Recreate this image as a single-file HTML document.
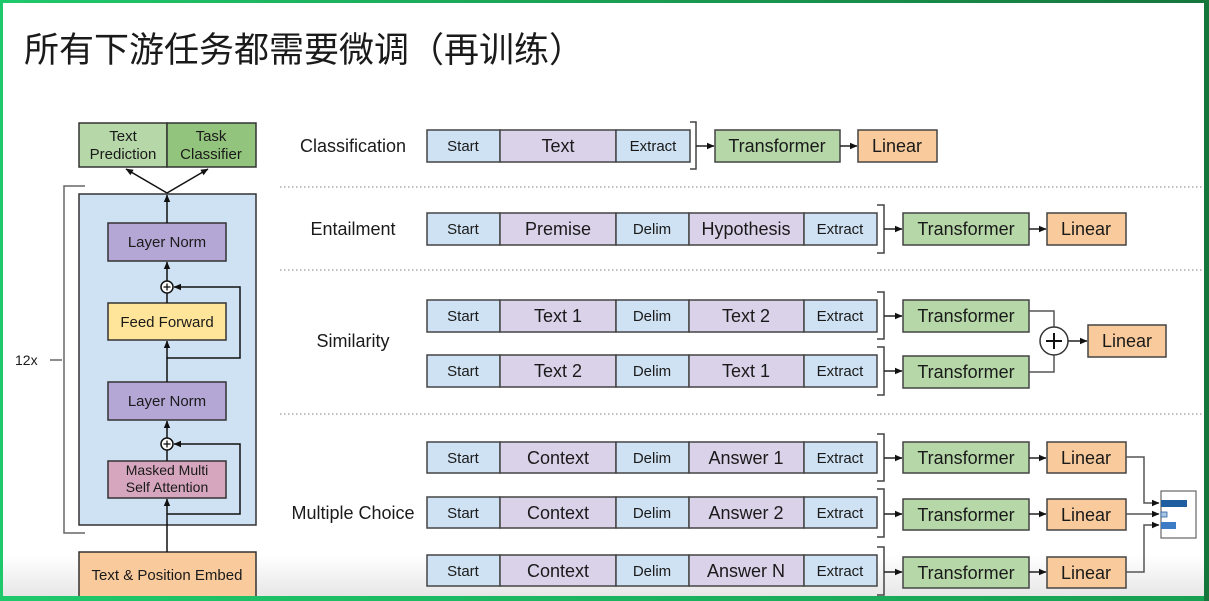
<!DOCTYPE html>
<html><head><meta charset="utf-8"><style>
html,body{margin:0;padding:0;background:#fff;}
svg{display:block;}
text{font-family:"Liberation Sans","Noto Sans CJK SC",sans-serif;fill:#1a1a1a;}
</style></head><body>
<svg width="1209" height="601" viewBox="0 0 1209 601" xmlns="http://www.w3.org/2000/svg">
<defs>
<linearGradient id="bg" x1="0" y1="0" x2="0" y2="1">
<stop offset="0" stop-color="#ffffff"/><stop offset="1" stop-color="#e4e4e4"/>
</linearGradient>
<linearGradient id="gt" x1="0" y1="0" x2="1" y2="0">
<stop offset="0" stop-color="#1fc96b"/><stop offset="1" stop-color="#15763c"/>
</linearGradient>
<linearGradient id="gb" x1="0" y1="0" x2="1" y2="0">
<stop offset="0" stop-color="#1fc96b"/><stop offset="1" stop-color="#17a052"/>
</linearGradient>
<marker id="ah" markerWidth="8" markerHeight="8" refX="7" refY="4" orient="auto" markerUnits="userSpaceOnUse">
<path d="M0,0.8 L7.5,4 L0,7.2 Z" fill="#111"/>
</marker>
</defs>
<rect width="1209" height="601" fill="#fff"/>
<rect x="0" y="555" width="1209" height="46" fill="url(#bg)"/>

<!-- title -->
<text x="24" y="62" font-size="35" style="font-family:'Noto Sans CJK SC','WenQuanYi Zen Hei',sans-serif" fill="#111">所有下游任务都需要微调（再训练）</text>

<!-- LEFT COLUMN -->
<g stroke="#333" stroke-width="1.5">
<rect x="79" y="123" width="88" height="44" fill="#b6d7a8"/>
<rect x="167" y="123" width="89" height="44" fill="#93c47d"/>
<rect x="79" y="194" width="177" height="331" fill="#cfe2f3"/>
<rect x="108" y="223" width="118" height="38" fill="#b4a7d6"/>
<rect x="108" y="303" width="118" height="37" fill="#ffe599"/>
<rect x="108" y="382" width="118" height="38" fill="#b4a7d6"/>
<rect x="108" y="461" width="118" height="37" fill="#d5a6bd"/>
<rect x="79" y="552" width="177" height="45" fill="#f9cb9c"/>
</g>
<text x="123" y="141" font-size="15" text-anchor="middle">Text</text>
<text x="123" y="159" font-size="15" text-anchor="middle">Prediction</text>
<text x="211" y="141" font-size="15" text-anchor="middle">Task</text>
<text x="211" y="159" font-size="15" text-anchor="middle">Classifier</text>
<text x="167" y="247" font-size="15" text-anchor="middle">Layer Norm</text>
<text x="167" y="327" font-size="15" text-anchor="middle">Feed Forward</text>
<text x="167" y="406" font-size="15" text-anchor="middle">Layer Norm</text>
<text x="167" y="475" font-size="14" text-anchor="middle">Masked Multi</text>
<text x="167" y="492" font-size="14" text-anchor="middle">Self Attention</text>
<text x="167" y="580" font-size="15" text-anchor="middle">Text &amp; Position Embed</text>

<g stroke="#111" stroke-width="1.5" fill="none">
<line x1="167" y1="193" x2="126" y2="169" marker-end="url(#ah)"/>
<line x1="167" y1="193" x2="208" y2="169" marker-end="url(#ah)"/>
<line x1="167" y1="223" x2="167" y2="195" marker-end="url(#ah)"/>
<line x1="167" y1="281" x2="167" y2="262" marker-end="url(#ah)"/>
<line x1="167" y1="303" x2="167" y2="293"/>
<path d="M167,382 V358 H240 V287 H174" marker-end="url(#ah)"/>
<line x1="167" y1="358" x2="167" y2="341" marker-end="url(#ah)"/>
<line x1="167" y1="438" x2="167" y2="421" marker-end="url(#ah)"/>
<line x1="167" y1="461" x2="167" y2="450"/>
<path d="M167,552 V499" marker-end="url(#ah)"/>
<path d="M167,514 H240 V444 H174" marker-end="url(#ah)"/>
</g>
<g stroke="#111" stroke-width="1.5" fill="#fff">
<circle cx="167" cy="287" r="6"/>
<circle cx="167" cy="444" r="6"/>
</g>
<g stroke="#111" stroke-width="1.3">
<line x1="163.5" y1="287" x2="170.5" y2="287"/><line x1="167" y1="283.5" x2="167" y2="290.5"/>
<line x1="163.5" y1="444" x2="170.5" y2="444"/><line x1="167" y1="440.5" x2="167" y2="447.5"/>
</g>
<!-- 12x bracket -->
<path d="M85,186 H64 V533 H85" stroke="#666" stroke-width="1.5" fill="none"/>
<line x1="50" y1="360" x2="62" y2="360" stroke="#666" stroke-width="1.5"/>
<text x="15" y="365" font-size="14">12x</text>

<!-- dotted separators -->
<g stroke="#aaa" stroke-width="1.5" stroke-dasharray="1.5,2.5">
<line x1="280" y1="187" x2="1204" y2="187"/>
<line x1="280" y1="270" x2="1204" y2="270"/>
<line x1="280" y1="414" x2="1204" y2="414"/>
</g>

<!-- task labels -->
<text x="353" y="152" font-size="18" text-anchor="middle">Classification</text>
<text x="353" y="235" font-size="18" text-anchor="middle">Entailment</text>
<text x="353" y="347" font-size="18" text-anchor="middle">Similarity</text>
<text x="353" y="519" font-size="18" text-anchor="middle">Multiple Choice</text>

<!-- segment boxes -->
<g stroke="#444" stroke-width="1.5">
<rect x="427" y="130" width="73" height="32" fill="#cfe2f3"/>
<rect x="500" y="130" width="116" height="32" fill="#d9d2e9"/>
<rect x="616" y="130" width="74" height="32" fill="#cfe2f3"/>

<rect x="427" y="213" width="73" height="32" fill="#cfe2f3"/>
<rect x="500" y="213" width="116" height="32" fill="#d9d2e9"/>
<rect x="616" y="213" width="73" height="32" fill="#cfe2f3"/>
<rect x="689" y="213" width="115" height="32" fill="#d9d2e9"/>
<rect x="804" y="213" width="73" height="32" fill="#cfe2f3"/>

<rect x="427" y="300" width="73" height="32" fill="#cfe2f3"/>
<rect x="500" y="300" width="116" height="32" fill="#d9d2e9"/>
<rect x="616" y="300" width="73" height="32" fill="#cfe2f3"/>
<rect x="689" y="300" width="115" height="32" fill="#d9d2e9"/>
<rect x="804" y="300" width="73" height="32" fill="#cfe2f3"/>

<rect x="427" y="355" width="73" height="32" fill="#cfe2f3"/>
<rect x="500" y="355" width="116" height="32" fill="#d9d2e9"/>
<rect x="616" y="355" width="73" height="32" fill="#cfe2f3"/>
<rect x="689" y="355" width="115" height="32" fill="#d9d2e9"/>
<rect x="804" y="355" width="73" height="32" fill="#cfe2f3"/>

<rect x="427" y="442" width="73" height="31" fill="#cfe2f3"/>
<rect x="500" y="442" width="116" height="31" fill="#d9d2e9"/>
<rect x="616" y="442" width="73" height="31" fill="#cfe2f3"/>
<rect x="689" y="442" width="115" height="31" fill="#d9d2e9"/>
<rect x="804" y="442" width="73" height="31" fill="#cfe2f3"/>

<rect x="427" y="497" width="73" height="31" fill="#cfe2f3"/>
<rect x="500" y="497" width="116" height="31" fill="#d9d2e9"/>
<rect x="616" y="497" width="73" height="31" fill="#cfe2f3"/>
<rect x="689" y="497" width="115" height="31" fill="#d9d2e9"/>
<rect x="804" y="497" width="73" height="31" fill="#cfe2f3"/>

<rect x="427" y="555" width="73" height="31" fill="#cfe2f3"/>
<rect x="500" y="555" width="116" height="31" fill="#d9d2e9"/>
<rect x="616" y="555" width="73" height="31" fill="#cfe2f3"/>
<rect x="689" y="555" width="115" height="31" fill="#d9d2e9"/>
<rect x="804" y="555" width="73" height="31" fill="#cfe2f3"/>

<rect x="715" y="130" width="125" height="32" fill="#b6d7a8"/>
<rect x="858" y="130" width="79" height="32" fill="#f9cb9c"/>
<rect x="903" y="213" width="126" height="32" fill="#b6d7a8"/>
<rect x="1047" y="213" width="79" height="32" fill="#f9cb9c"/>
<rect x="903" y="300" width="126" height="32" fill="#b6d7a8"/>
<rect x="903" y="356" width="126" height="32" fill="#b6d7a8"/>
<rect x="1088" y="325" width="78" height="32" fill="#f9cb9c"/>
<rect x="903" y="442" width="126" height="31" fill="#b6d7a8"/>
<rect x="1047" y="442" width="79" height="31" fill="#f9cb9c"/>
<rect x="903" y="499" width="126" height="31" fill="#b6d7a8"/>
<rect x="1047" y="499" width="79" height="31" fill="#f9cb9c"/>
<rect x="903" y="557" width="126" height="31" fill="#b6d7a8"/>
<rect x="1047" y="557" width="79" height="31" fill="#f9cb9c"/>
</g>

<g font-size="15" text-anchor="middle">
<text x="463" y="151">Start</text><text x="653" y="151">Extract</text>
<text x="463" y="234">Start</text><text x="652" y="234">Delim</text><text x="840" y="234">Extract</text>
<text x="463" y="321">Start</text><text x="652" y="321">Delim</text><text x="840" y="321">Extract</text>
<text x="463" y="376">Start</text><text x="652" y="376">Delim</text><text x="840" y="376">Extract</text>
<text x="463" y="463">Start</text><text x="652" y="463">Delim</text><text x="840" y="463">Extract</text>
<text x="463" y="518">Start</text><text x="652" y="518">Delim</text><text x="840" y="518">Extract</text>
<text x="463" y="576">Start</text><text x="652" y="576">Delim</text><text x="840" y="576">Extract</text>
</g>
<g font-size="18" text-anchor="middle">
<text x="558" y="152">Text</text>
<text x="558" y="235">Premise</text><text x="746" y="235">Hypothesis</text>
<text x="558" y="322">Text 1</text><text x="746" y="322">Text 2</text>
<text x="558" y="377">Text 2</text><text x="746" y="377">Text 1</text>
<text x="558" y="464">Context</text><text x="746" y="464">Answer 1</text>
<text x="558" y="519">Context</text><text x="746" y="519">Answer 2</text>
<text x="558" y="577">Context</text><text x="746" y="577">Answer N</text>
<text x="777" y="152">Transformer</text><text x="897" y="152">Linear</text>
<text x="966" y="235">Transformer</text><text x="1086" y="235">Linear</text>
<text x="966" y="322">Transformer</text>
<text x="966" y="378">Transformer</text>
<text x="1127" y="347">Linear</text>
<text x="966" y="464">Transformer</text><text x="1086" y="464">Linear</text>
<text x="966" y="521">Transformer</text><text x="1086" y="521">Linear</text>
<text x="966" y="579">Transformer</text><text x="1086" y="579">Linear</text>
</g>

<g stroke="#444" stroke-width="1.5" fill="none">
<path d="M690,122 H696 V169 H690"/>
<path d="M877,205 H884 V253 H877"/>
<path d="M877,292 H884 V339 H877"/>
<path d="M877,347 H884 V395 H877"/>
<path d="M877,434 H884 V481 H877"/>
<path d="M877,489 H884 V537 H877"/>
<path d="M877,547 H884 V595 H877"/>
</g>

<g stroke="#222" stroke-width="1.5" fill="none">
<line x1="696" y1="146" x2="714" y2="146" marker-end="url(#ah)"/>
<line x1="840" y1="146" x2="857" y2="146" marker-end="url(#ah)"/>
<line x1="884" y1="229" x2="902" y2="229" marker-end="url(#ah)"/>
<line x1="1029" y1="229" x2="1046" y2="229" marker-end="url(#ah)"/>
<line x1="884" y1="316" x2="902" y2="316" marker-end="url(#ah)"/>
<line x1="884" y1="371" x2="902" y2="371" marker-end="url(#ah)"/>
<line x1="884" y1="458" x2="902" y2="458" marker-end="url(#ah)"/>
<line x1="1029" y1="458" x2="1046" y2="458" marker-end="url(#ah)"/>
<line x1="884" y1="514" x2="902" y2="514" marker-end="url(#ah)"/>
<line x1="1029" y1="514" x2="1046" y2="514" marker-end="url(#ah)"/>
<line x1="884" y1="572" x2="902" y2="572" marker-end="url(#ah)"/>
<line x1="1029" y1="572" x2="1046" y2="572" marker-end="url(#ah)"/>
</g>
<g stroke="#555" stroke-width="1.5" fill="none">
<path d="M1029,311 H1054 V327"/>
<path d="M1029,372 H1054 V355"/>
<path d="M1126,457 H1144 V503 H1159" marker-end="url(#ah)"/>
<path d="M1126,514 H1159" marker-end="url(#ah)"/>
<path d="M1126,572 H1144 V525 H1159" marker-end="url(#ah)"/>
</g>
<line x1="1068" y1="341" x2="1087" y2="341" stroke="#222" stroke-width="1.5" marker-end="url(#ah)"/>
<circle cx="1054" cy="341" r="14" fill="#fff" stroke="#333" stroke-width="1.5"/>
<g stroke="#111" stroke-width="2">
<line x1="1046" y1="341" x2="1062" y2="341"/><line x1="1054" y1="333" x2="1054" y2="349"/>
</g>

<rect x="1161" y="491" width="35" height="47" fill="#fff" stroke="#666" stroke-width="1.2"/>
<rect x="1161" y="500" width="26" height="7" fill="#1f5fa0"/>
<rect x="1161" y="512" width="6" height="5" fill="#a8c4e4" stroke="#2a5f9e" stroke-width="0.8"/>
<rect x="1161" y="522" width="15" height="7" fill="#3d7bc4"/>

<rect x="0" y="0" width="1209" height="3" fill="url(#gt)"/>
<rect x="0" y="0" width="3" height="601" fill="#1fc96b"/>
<rect x="1204" y="0" width="5" height="601" fill="#15763c"/>
<rect x="0" y="596" width="1204" height="5" fill="url(#gb)"/>
</svg>
</body></html>
